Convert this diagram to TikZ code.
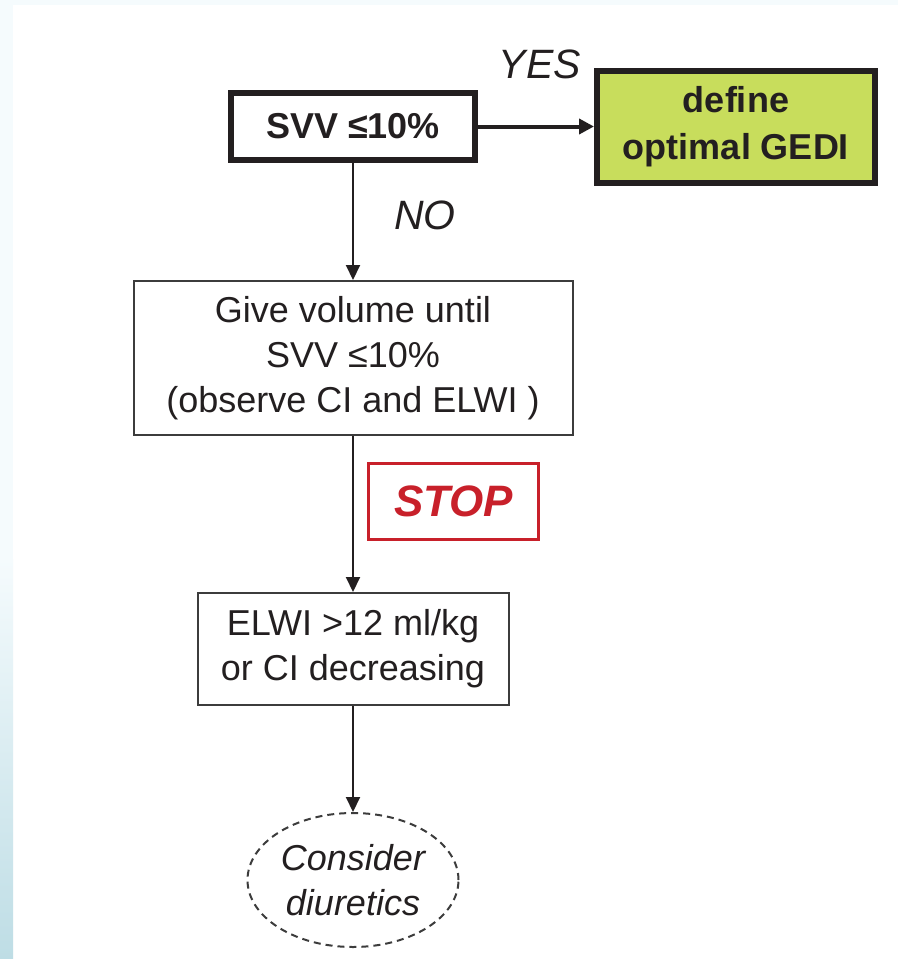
\documentclass[tikz,border=0pt]{standalone}
\usepackage{fontspec}
\setmainfont{Liberation Sans}
\usetikzlibrary{arrows.meta,shapes.geometric}
\definecolor{ink}{RGB}{35,31,32}
\definecolor{gedigreen}{RGB}{200,221,92}
\definecolor{stopred}{RGB}{200,32,42}
\definecolor{bgtop}{RGB}{245,251,253}
\definecolor{bgbot}{RGB}{190,221,229}
\definecolor{boxgray}{RGB}{60,60,60}
\tikzset{
  txt/.style={font=\fontsize{36}{45}\selectfont, text=ink, align=center},
  thickbox/.style={txt, draw=ink, line width=6pt, inner sep=0pt, font=\fontsize{36}{47}\selectfont\bfseries},
  thinbox/.style={txt, draw=boxgray, line width=2pt, inner sep=0pt},
  lbl/.style={font=\fontsize{41}{45}\selectfont\itshape, text=ink},
  conn/.style={draw=ink, line width=2pt, -{Triangle[length=15pt,width=14pt]}},
  thickconn/.style={draw=ink, line width=4pt, -{Triangle[length=15pt,width=15pt]}},
}
\begin{document}
\begin{tikzpicture}[x=1pt,y=-1pt]
  \useasboundingbox (0,0) rectangle (898,959);
  \fill[white] (0,0) rectangle (898,959);
  \fill[bgtop] (0,0) rectangle (898,5);
  \fill[bgtop] (0,0) rectangle (13,560);
  \shade[top color=bgtop, bottom color=bgbot] (0,559) rectangle (13,959);

  \node[thickbox, minimum width=244pt, minimum height=67pt, fill=white] (svv) at (353,126.5) {SVV ≤10\%};
  \node[thickbox, minimum width=278pt, minimum height=112pt, fill=gedigreen] (gedi) at (736,127) {define\\optimal GEDI};
  \node[thinbox, minimum width=439pt, minimum height=154pt, fill=white] (give) at (353,358) {Give volume until\\SVV ≤10\%\\(observe CI and ELWI )};
  \node[draw=stopred, line width=3pt, minimum width=170pt, minimum height=76pt, inner sep=0pt,
        font=\fontsize{44}{48}\selectfont\bfseries\itshape, text=stopred] (stop) at (453.5,501.5) {STOP};
  \node[thinbox, minimum width=311pt, minimum height=112pt, fill=white] (elwi) at (353,649) {ELWI >12 ml/kg\\or CI decreasing};
  \node[ellipse, draw=boxgray, dashed, dash pattern=on 7pt off 5pt, line width=2pt, minimum width=211pt, minimum height=134pt,
        inner sep=0pt, txt, font=\fontsize{36}{45}\selectfont\itshape] (diur) at (353,880) {Consider\\diuretics};

  \node[lbl] (yes) at (540,64) {YES};
  \node[lbl] (no) at (425,215) {NO};

  \draw[thickconn] (svv.east) -- (gedi.west |- svv.east);
  \draw[conn] (svv.south) -- (give.north);
  \draw[conn] (give.south) -- (elwi.north);
  \draw[conn] (elwi.south) -- (diur.north);
\end{tikzpicture}
\end{document}
